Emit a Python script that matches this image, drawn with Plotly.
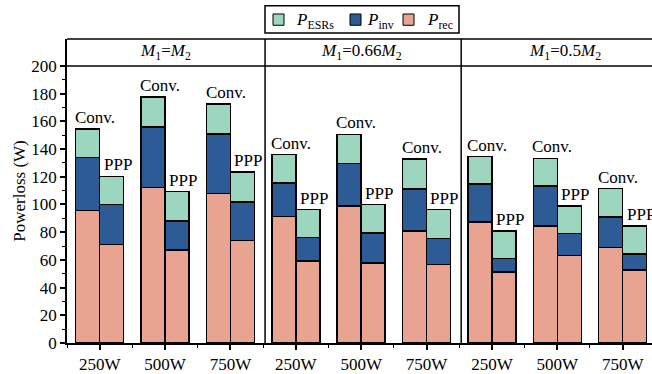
import plotly.graph_objects as go

# ---- data ----
panels = ["<i>M</i><sub>1</sub>=<i>M</i><sub>2</sub>",
          "<i>M</i><sub>1</sub>=0.66<i>M</i><sub>2</sub>",
          "<i>M</i><sub>1</sub>=0.5<i>M</i><sub>2</sub>"]
powers = ["250W", "500W", "750W"]
series_names = ["<i>P</i><sub>ESRs</sub>", "<i>P</i><sub>inv</sub>", "<i>P</i><sub>rec</sub>"]

conv_rec = [95.5, 112.3, 108.0, 91.3, 98.8, 80.7, 87.5, 84.4, 68.9]
conv_inv = [38.3, 43.6, 42.7, 24.3, 30.7, 30.6, 27.4, 28.8, 21.9]
conv_esr = [20.7, 21.5, 21.7, 20.3, 21.0, 21.5, 19.6, 20.1, 20.7]

ppp_rec = [71.0, 67.0, 73.8, 59.2, 57.8, 56.6, 51.4, 63.0, 52.8]
ppp_inv = [28.8, 21.0, 28.1, 17.0, 21.7, 18.9, 9.5, 16.0, 11.3]
ppp_esr = [20.5, 21.2, 21.5, 20.0, 20.3, 20.7, 19.8, 19.8, 20.3]

# ---- geometry / style ----
W, H = 652, 374
ML, MR, MT, MB = 67, 0, 39, 25
PW, PH = W - ML - MR, H - MT - MB


def px_x(p):
    return (p - ML) / PW


def px_y(p):
    return (H - MB - p) / PH


n = len(conv_rec)
half = 0.1837
bw = 0.367
centers = [i + 0.5 for i in range(n)]
x_conv = [c - half for c in centers]
x_ppp = [c + half for c in centers]
xs = x_conv + x_ppp

FONT = "'Liberation Serif', 'Times New Roman', serif"
C_REC = "#E9A391"
C_INV = "#2C5B96"
C_ESR = "#9DD6BE"
colors = {"<i>P</i><sub>ESRs</sub>": C_ESR, "<i>P</i><sub>inv</sub>": C_INV,
          "<i>P</i><sub>rec</sub>": C_REC}

fig = go.Figure()
for name, vals_c, vals_p in [
    (series_names[2], conv_rec, ppp_rec),
    (series_names[1], conv_inv, ppp_inv),
    (series_names[0], conv_esr, ppp_esr),
]:
    fig.add_trace(go.Bar(
        x=xs, y=vals_c + vals_p, width=bw, name=name, showlegend=False,
        marker=dict(color=colors[name], line=dict(color="black", width=1.5)),
    ))

annotations = []
for i in range(n):
    tc = conv_rec[i] + conv_inv[i] + conv_esr[i]
    tp = ppp_rec[i] + ppp_inv[i] + ppp_esr[i]
    annotations.append(dict(x=x_conv[i] + 0.11, y=tc, xref="x", yref="y",
                            text="Conv.", showarrow=False, yanchor="bottom",
                            font=dict(family=FONT, size=17, color="black")))
    annotations.append(dict(x=x_ppp[i] + 0.09, y=tp, xref="x", yref="y",
                            text="PPP", showarrow=False, yanchor="bottom",
                            font=dict(family=FONT, size=17, color="black")))

panel_centers = [1.5, 4.5, 7.62]
for pc, txt in zip(panel_centers, panels):
    annotations.append(dict(x=pc, y=210, xref="x", yref="y", text=txt,
                            showarrow=False, yanchor="middle",
                            font=dict(family=FONT, size=17, color="black")))

shapes = [
    dict(type="line", xref="paper", yref="y", x0=0, x1=1, y0=200, y1=200,
         line=dict(color="black", width=1.5)),
    dict(type="line", xref="paper", yref="paper", x0=0, x1=1, y0=1, y1=1,
         line=dict(color="black", width=1.5)),
]
for b in [3.03, 6.03]:
    shapes.append(dict(type="line", xref="x", yref="paper", x0=b, x1=b, y0=0, y1=1,
                       line=dict(color="black", width=1.5)))

# ---- manual legend (boxed, horizontal) ----
shapes.append(dict(type="rect", xref="paper", yref="paper",
                   x0=px_x(265), x1=px_x(459), y0=px_y(33), y1=px_y(5),
                   line=dict(color="black", width=1.5), fillcolor="white"))
legend_sq = [273, 350, 403]
legend_tx = [294, 365, 425]
for name, sx, tx in zip(series_names, legend_sq, legend_tx):
    shapes.append(dict(type="rect", xref="paper", yref="paper",
                       x0=px_x(sx), x1=px_x(sx + 11), y0=px_y(25), y1=px_y(13.5),
                       line=dict(color="black", width=1), fillcolor=colors[name]))
    annotations.append(dict(x=px_x(tx), y=px_y(21), xref="paper", yref="paper",
                            text=name, showarrow=False, xanchor="left",
                            yanchor="middle",
                            font=dict(family=FONT, size=17, color="black")))

fig.update_layout(
    width=W, height=H,
    margin=dict(l=ML, r=MR, t=MT, b=MB),
    plot_bgcolor="white", paper_bgcolor="white",
    barmode="stack",
    font=dict(family=FONT, size=17, color="black"),
    showlegend=False,
    xaxis=dict(range=[0, 8.949], showgrid=False, zeroline=False,
               showline=True, linecolor="black", linewidth=1.5,
               tickmode="array", tickvals=centers, ticktext=powers * 3,
               ticks="outside", ticklen=5, tickwidth=1.5, tickcolor="black",
               tickfont=dict(family=FONT, size=17),
               minor=dict(tickmode="linear", tick0=0, dtick=1, ticks="outside",
                          ticklen=3, tickwidth=1.2, tickcolor="black")),
    yaxis=dict(range=[0, 219.4], showgrid=False, zeroline=False,
               showline=True, linecolor="black", linewidth=1.5,
               tickmode="array", tickvals=list(range(0, 201, 20)),
               ticks="outside", ticklen=5, tickwidth=1.5, tickcolor="black",
               tickfont=dict(family=FONT, size=17),
               minor=dict(tickmode="array", tickvals=list(range(10, 200, 20)),
                          ticks="outside", ticklen=3, tickwidth=1.2, tickcolor="black"),
               title=dict(text="Powerloss (W)", font=dict(family=FONT, size=17),
                          standoff=1)),
    annotations=annotations,
    shapes=shapes,
)

fig.write_html("out.html")
